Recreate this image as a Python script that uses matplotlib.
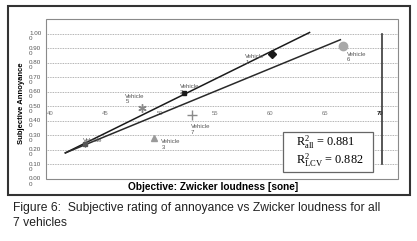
import matplotlib
matplotlib.use("Agg")
import matplotlib.pyplot as plt
import matplotlib.transforms as mtransforms
from matplotlib.patches import Rectangle

plt.rcParams['font.family'] = ['Liberation Sans', 'DejaVu Sans']
plt.rcParams['mathtext.fontset'] = 'custom'
plt.rcParams['mathtext.rm'] = 'Liberation Serif'
plt.rcParams['mathtext.it'] = 'Liberation Serif:italic'

# data
vehicles = ["1", "2", "3", "4", "5", "6", "7"]
loudness = [60.2, 52.2, 49.5, 43.2, 48.4, 66.6, 52.9]
annoyance = [0.86, 0.59, 0.28, 0.24, 0.49, 0.92, 0.44]

fit_all_x = [41.4, 63.6]
fit_all_y = [0.18, 1.01]
fit_lcv_x = [41.4, 66.4]
fit_lcv_y = [0.18, 0.96]

xticks = [40, 45, 50, 55, 60, 65, 70]
yticks = [0.0, 0.1, 0.2, 0.3, 0.4, 0.5, 0.6, 0.7, 0.8, 0.9, 1.0]
ytick_labels = ["%.2f\n0" % v for v in yticks]

r2_all = 0.881
r2_lcv = 0.882

# styles
markers = ['D', 's', '^', 's', (6, 2, 0), 'o', '+']
mcolors = ['#1a1a1a', '#1a1a1a', '#9a9a9a', '#555555', '#8a8a8a', '#a8a8a8', '#8a8a8a']
msizes = [4.5, 2.5, 5, 2.5, 6, 6, 7]
label_offsets = [(-27, 0), (-4, 9), (7, -1), (-2, 6), (-17, 14), (4, -6), (-1, -9)]

fig = plt.figure(figsize=(4.17, 2.41), dpi=100)
W, H = 417.0, 241.0
ax = fig.add_axes([46 / W, 1 - 179 / H, 352 / W, 160 / H])
ax.set_xlim(39.64, 71.64)
ax.set_ylim(0, 1.103)

# grid
for v in yticks[1:]:
    ax.axhline(v, color='#9a9a9a', lw=0.6, ls=(0, (1, 1)), zorder=1)

# thick vertical line at x = 70
ax.plot([70.2, 70.2], [0.1, 1.0], color='#3a3a3a', lw=1.2, zorder=2)

# regression lines
ax.plot(fit_all_x, fit_all_y, color='#1a1a1a', lw=1.1, zorder=3)
ax.plot(fit_lcv_x, fit_lcv_y, color='#2a2a2a', lw=1.1, zorder=3)

for i, v in enumerate(vehicles):
    ax.plot(loudness[i], annoyance[i], marker=markers[i], color=mcolors[i],
            ms=msizes[i], mew=1.0, ls='none', zorder=4)
    ax.annotate("Vehicle\n" + v, (loudness[i], annoyance[i]),
                xytext=label_offsets[i], textcoords='offset pixels',
                ha='left', va='top', fontsize=4.3, color='#555555',
                linespacing=1.1, zorder=5)

# axes / ticks
for s in ['top', 'right', 'left']:
    ax.spines[s].set_visible(False)
ax.spines['bottom'].set_position(('data', 0.5))
ax.spines['bottom'].set_visible(False)
ax.add_patch(Rectangle((0, 0), 1, 1, transform=ax.transAxes, fill=False,
                       ec='#8a8a8a', lw=0.8, zorder=6, clip_on=False))

ax.set_xticks(xticks)
ax.set_xticklabels([str(t) for t in xticks])
ax.tick_params(axis='x', length=0, pad=3, labelsize=4.3, labelcolor='#777777')
ax.get_xticklabels()[-1].set_color('#222222')
ax.get_xticklabels()[-1].set_fontweight('bold')

ax.set_yticks(yticks)
ax.set_yticklabels(ytick_labels)
ax.tick_params(axis='y', length=0, pad=12.2, labelsize=4.5, labelcolor='#555555')
shift = mtransforms.ScaledTranslation(0, 2.5 / 100.0, fig.dpi_scale_trans)
for t in ax.get_yticklabels():
    t.set_ha('left')
    t.set_va('top')
    t.set_linespacing(1.0)
    t.set_transform(t.get_transform() + shift)

# R^2 box
ax.add_patch(Rectangle((61.2, 0.048), 8.2, 0.276, fill=True, fc='white',
                       ec='#666666', lw=0.9, zorder=7))
r2_text = (r"R$^{2}_{\mathrm{all}}$ = %.3f" % r2_all + "\n"
           + r"R$^{2}_{\mathrm{LCV}}$ = %.3f" % r2_lcv)
ax.text(62.4, 0.19, r2_text, fontfamily='Liberation Serif', fontsize=8.8,
        va='center', ha='left', linespacing=0.95, zorder=8)

# axis titles
fig.text(213 / W, 1 - 187 / H, "Objective: Zwicker loudness [sone]",
         ha='center', va='center', fontsize=7.3, fontweight='bold')
fig.text(21.5 / W, 1 - 103 / H, "Subjective Annoyance", rotation=90,
         ha='center', va='center', fontsize=5.5, fontweight='bold')

# outer chart frame
fig.patches.append(Rectangle((8 / W, 1 - 195 / H), 402 / W, 189 / H,
                             transform=fig.transFigure, fill=False,
                             ec='#333333', lw=1.5))

# caption
fig.text(13 / W, 1 - 208 / H,
         "Figure 6:  Subjective rating of annoyance vs Zwicker loudness for all",
         ha='left', va='center', fontsize=8.7, color='#222222')
fig.text(13 / W, 1 - 223 / H, "7 vehicles",
         ha='left', va='center', fontsize=8.7, color='#222222')

fig.savefig("out.png", dpi=100, facecolor='white')
